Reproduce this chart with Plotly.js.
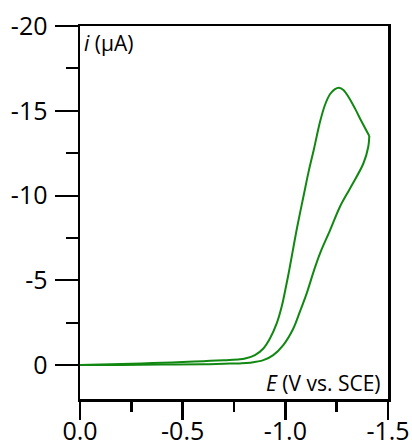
<!DOCTYPE html>
<html>
<head>
<meta charset="utf-8">
<script src="https://cdn.plot.ly/plotly-3.0.1.min.js"></script>
<style>html,body{margin:0;padding:0;background:#fff;}#chart{width:412px;height:445px;}</style>
</head>
<body>
<div id="chart"></div>
<script>
// Forward (cathodic) scan: potential (V vs. SCE) and current (µA)
var forwardE = [0, -0.1, -0.2, -0.3, -0.4, -0.5, -0.6, -0.7, -0.779, -0.804, -0.852, -0.893, -0.925, -0.958, -0.982, -1.003, -1.019, -1.034, -1.058, -1.088, -1.115, -1.140, -1.169, -1.193, -1.218, -1.242, -1.261, -1.283, -1.307, -1.339, -1.372, -1.409];
var forwardI = [0, -0.03, -0.07, -0.10, -0.14, -0.18, -0.23, -0.29, -0.34, -0.39, -0.59, -0.98, -1.57, -2.46, -3.44, -4.62, -5.60, -6.59, -8.16, -9.93, -11.50, -12.78, -14.35, -15.34, -15.99, -16.28, -16.36, -16.22, -15.83, -15.14, -14.35, -13.51];
// Reverse scan
var reverseE = [-1.409, -1.404, -1.380, -1.315, -1.266, -1.218, -1.169, -1.140, -1.104, -1.071, -1.039, -0.990, -0.941, -0.893, -0.828, -0.779, -0.7, -0.6, -0.4, -0.2, 0];
var reverseI = [-13.51, -12.88, -11.89, -10.42, -9.34, -7.96, -6.59, -5.60, -4.23, -3.15, -2.16, -1.18, -0.59, -0.29, -0.14, -0.10, -0.08, -0.05, -0.03, -0.01, 0];
// Tick labels
var xTickVals = [0, -0.5, -1.0, -1.5];
var xTickText = ["0.0", "-0.5", "-1.0", "-1.5"];
var yTickVals = [0, -5, -10, -15, -20];
var yTickText = ["0", "-5", "-10", "-15", "-20"];

var lineStyle = {color: '#118811', width: 2, shape: 'spline', smoothing: 1};
var traces = [
  {x: forwardE, y: forwardI, mode: 'lines', line: lineStyle, showlegend: false, hoverinfo: 'skip'},
  {x: reverseE, y: reverseI, mode: 'lines', line: lineStyle, showlegend: false, hoverinfo: 'skip'}
];
var tickFont = {family: '"Open Sans", sans-serif', size: 25, color: '#000'};
var layout = {
  width: 412, height: 445,
  margin: {l: 80, r: 24, t: 26, b: 46, pad: 0},
  paper_bgcolor: '#fff', plot_bgcolor: '#fff',
  font: {family: '"Open Sans", sans-serif', color: '#000'},
  xaxis: {
    range: [0, -1.5], tickmode: 'array', tickvals: xTickVals, ticktext: xTickText,
    ticks: 'outside', ticklen: 18, tickwidth: 2.5, tickcolor: '#000',
    showline: true, linewidth: 2.5, linecolor: '#000', mirror: true,
    showgrid: false, zeroline: false, tickfont: tickFont, ticklabelstandoff: -10,
    minor: {tickvals: [-0.25, -0.75, -1.25], ticks: 'outside', ticklen: 10, tickwidth: 2.5, tickcolor: '#000', showgrid: false}
  },
  yaxis: {
    range: [2, -20], tickmode: 'array', tickvals: yTickVals, ticktext: yTickText,
    ticks: 'outside', ticklen: 23, tickwidth: 2, tickcolor: '#000',
    showline: true, linewidth: 2.5, linecolor: '#000', mirror: true,
    showgrid: false, zeroline: false, tickfont: tickFont, ticklabelstandoff: 2,
    minor: {tickvals: [-2.5, -7.5, -12.5, -17.5], ticks: 'outside', ticklen: 12, tickwidth: 2, tickcolor: '#000', showgrid: false}
  },
  annotations: [
    {xref: 'paper', yref: 'paper', x: 0.008, y: 0.997, xanchor: 'left', yanchor: 'top', showarrow: false,
     text: '<i>i</i> (µA)', font: {family: '"Open Sans", sans-serif', size: 21, color: '#000'}},
    {xref: 'paper', yref: 'paper', x: 0.985, y: 0.0, xanchor: 'right', yanchor: 'bottom', showarrow: false,
     text: '<i>E</i> (V vs. SCE)', font: {family: '"Open Sans", sans-serif', size: 21, color: '#000'}}
  ]
};
Plotly.newPlot('chart', traces, layout, {displayModeBar: false, staticPlot: true});
</script>
</body>
</html>
